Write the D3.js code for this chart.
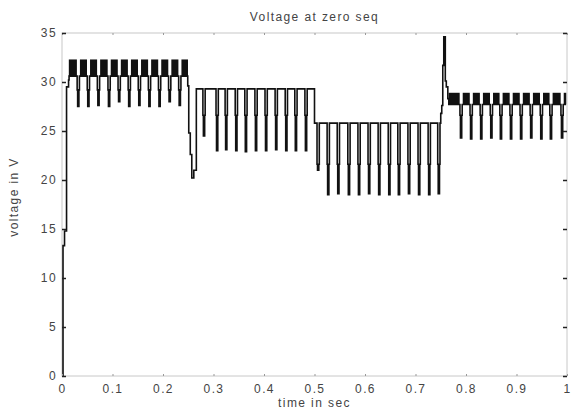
<!DOCTYPE html>
<html>
<head>
<meta charset="utf-8">
<script src="https://cdn.jsdelivr.net/npm/d3@7"></script>
<style>
  body { margin: 0; background: #fff; }
  svg { display: block; }
  text { font-family: "Liberation Sans", Arial, sans-serif; font-size: 12px; fill: #444; letter-spacing: 1.4px; }
</style>
</head>
<body>
<svg width="576" height="410"></svg>
<script>
const xTicks = [0, 0.1, 0.2, 0.3, 0.4, 0.5, 0.6, 0.7, 0.8, 0.9, 1];
const xTickLabels = ['0', '0.1', '0.2', '0.3', '0.4', '0.5', '0.6', '0.7', '0.8', '0.9', '1'];
const yTicks = [0, 5, 10, 15, 20, 25, 30, 35];

// start-up and transitions: step breakpoints (s, V)
const startT = [0, 0.002, 0.005, 0.009, 0.013];
const startV = [0, 13.3, 14.8, 29.5, 30.2];
const drop1T = [0.249, 0.251, 0.254, 0.257, 0.261];
const drop1V = [29.6, 24.8, 22.6, 20.2, 21.0];
const rise3T = [0.750, 0.752, 0.754, 0.756, 0.759, 0.761, 0.764];
const rise3V = [26.8, 27.6, 31.7, 34.6, 30.1, 29.5, 28.3];

// dip times and dip minima per segment
const seg1Dips = [0.030, 0.050, 0.070, 0.091, 0.111, 0.131, 0.151, 0.171, 0.191, 0.211, 0.231];
const seg1Lows = [27.5, 27.5, 27.6, 27.5, 28.0, 27.5, 27.6, 27.5, 27.5, 28.0, 27.6];
const seg2Dips = [0.279, 0.305, 0.323, 0.343, 0.362, 0.382, 0.402, 0.422, 0.442, 0.461, 0.481];
const seg2Lows = [24.5, 23.0, 23.1, 23.0, 22.9, 23.0, 23.0, 23.1, 23.0, 23.0, 23.0];
const seg3Dips = [0.505, 0.525, 0.545, 0.566, 0.586, 0.606, 0.626, 0.646, 0.665, 0.685, 0.705, 0.725, 0.744];
const seg3Lows = [21.0, 18.5, 18.6, 18.5, 18.5, 18.6, 18.5, 18.5, 18.5, 18.6, 18.5, 18.5, 18.6];
const seg4Dips = [0.788, 0.808, 0.828, 0.848, 0.867, 0.887, 0.907, 0.927, 0.947, 0.966, 0.988];
const seg4Lows = [24.3, 24.2, 24.2, 24.3, 24.2, 24.2, 24.2, 24.3, 24.2, 24.2, 24.3];

// segment levels: [from, to, top, bandHi, mid]
const seg1Levels = [0.014, 0.249, 30.6, 32.3, 29.2];
const seg2Levels = [0.266, 0.500, 29.3, null, 26.6];
const seg3Levels = [0.500, 0.750, 25.8, null, 21.6];
const seg4Levels = [0.766, 0.998, 27.7, 28.9, 26.6];

const dipSteps = [0, 0.001, 0.0035, 0.0045];

const width = 576, height = 410;
const margin = {top: 33, right: 9, bottom: 34, left: 62};

const svg = d3.select('svg');

const x = d3.scaleLinear().domain([0, 1]).range([margin.left, width - margin.right]);
const y = d3.scaleLinear().domain([0, 35]).range([height - margin.bottom, margin.top]);

const segments = [
  [seg1Levels, seg1Dips, seg1Lows],
  [seg2Levels, seg2Dips, seg2Lows],
  [seg3Levels, seg3Dips, seg3Lows],
  [seg4Levels, seg4Dips, seg4Lows]
];

function segmentPoints([lv, dips, lows]) {
  const [from, to, top, , mid] = lv;
  const pts = [[from, top]];
  dips.forEach((d, i) => {
    const vals = [mid, lows[i], mid, top];
    dipSteps.forEach((o, j) => pts.push([d + o, vals[j]]));
  });
  pts.push([to, top]);
  return pts;
}

const points = [];
d3.zip(startT, startV).forEach(p => points.push(p));
points.push(...segmentPoints(segments[0]));
d3.zip(drop1T, drop1V).forEach(p => points.push(p));
points.push(...segmentPoints(segments[1]));
points.push(...segmentPoints(segments[2]));
d3.zip(rise3T, rise3V).forEach(p => points.push(p));
points.push(...segmentPoints(segments[3]));

// dense switching bands drawn as filled blocks
const bands = [];
segments.forEach(([lv, dips]) => {
  const [from, to, top, bandHi] = lv;
  if (bandHi == null) return;
  const edges = [from - 0.006, ...dips, to + 0.001];
  d3.pairs(edges).forEach(([a, b]) => {
    bands.push({t0: a + 0.0055, t1: b - 0.0005, lo: top, hi: bandHi});
  });
});

// frame
svg.append('rect')
  .attr('x', margin.left).attr('y', margin.top)
  .attr('width', width - margin.left - margin.right)
  .attr('height', height - margin.top - margin.bottom)
  .attr('fill', 'none').attr('stroke', '#c8c8c8');

svg.selectAll('.band').data(bands).join('rect')
  .attr('class', 'band')
  .attr('x', d => x(d.t0))
  .attr('width', d => Math.max(0, x(d.t1) - x(d.t0)))
  .attr('y', d => y(d.hi))
  .attr('height', d => y(d.lo) - y(d.hi))
  .attr('fill', '#111');

const line = d3.line()
  .x(d => x(d[0]))
  .y(d => y(d[1]))
  .curve(d3.curveStepAfter);

svg.append('path')
  .datum(points)
  .attr('d', line)
  .attr('fill', 'none')
  .attr('stroke', '#111')
  .attr('stroke-width', 1.6);

// ticks (inward, all four sides)
const xAxisB = d3.axisBottom(x).tickValues(xTicks).tickSize(-2).tickPadding(8)
  .tickFormat((d, i) => xTickLabels[i]);
const gxB = svg.append('g').attr('transform', `translate(0,${height - margin.bottom})`).call(xAxisB);
gxB.select('.domain').remove();
gxB.selectAll('line').attr('stroke', '#999');
gxB.selectAll('text').attr('fill', '#444').attr('font-size', 12).attr('font-family', null);

const gxT = svg.append('g').attr('transform', `translate(0,${margin.top})`)
  .call(d3.axisTop(x).tickValues(xTicks).tickSize(-2).tickFormat(''));
gxT.select('.domain').remove();
gxT.selectAll('line').attr('stroke', '#999');

const gyL = svg.append('g').attr('transform', `translate(${margin.left},0)`)
  .call(d3.axisLeft(y).tickValues(yTicks).tickSize(-4).tickPadding(5));
gyL.select('.domain').remove();
gyL.selectAll('line').attr('stroke', '#222').attr('stroke-width', 1.5);
gyL.selectAll('text').attr('fill', '#444').attr('font-size', 12).attr('font-family', null);

const gyR = svg.append('g').attr('transform', `translate(${width - margin.right},0)`)
  .call(d3.axisRight(y).tickValues(yTicks).tickSize(-4).tickFormat(''));
gyR.select('.domain').remove();
gyR.selectAll('line').attr('stroke', '#222').attr('stroke-width', 1.5);

// labels
svg.append('text')
  .attr('x', (margin.left + width - margin.right) / 2).attr('y', 21)
  .attr('text-anchor', 'middle')
  .text('Voltage at zero seq');

svg.append('text')
  .attr('x', (margin.left + width - margin.right) / 2).attr('y', 407)
  .attr('text-anchor', 'middle')
  .text('time in sec');

svg.append('text')
  .attr('transform', 'translate(18,197) rotate(-90)')
  .attr('text-anchor', 'middle')
  .text('voltage in V');
</script>
</body>
</html>
